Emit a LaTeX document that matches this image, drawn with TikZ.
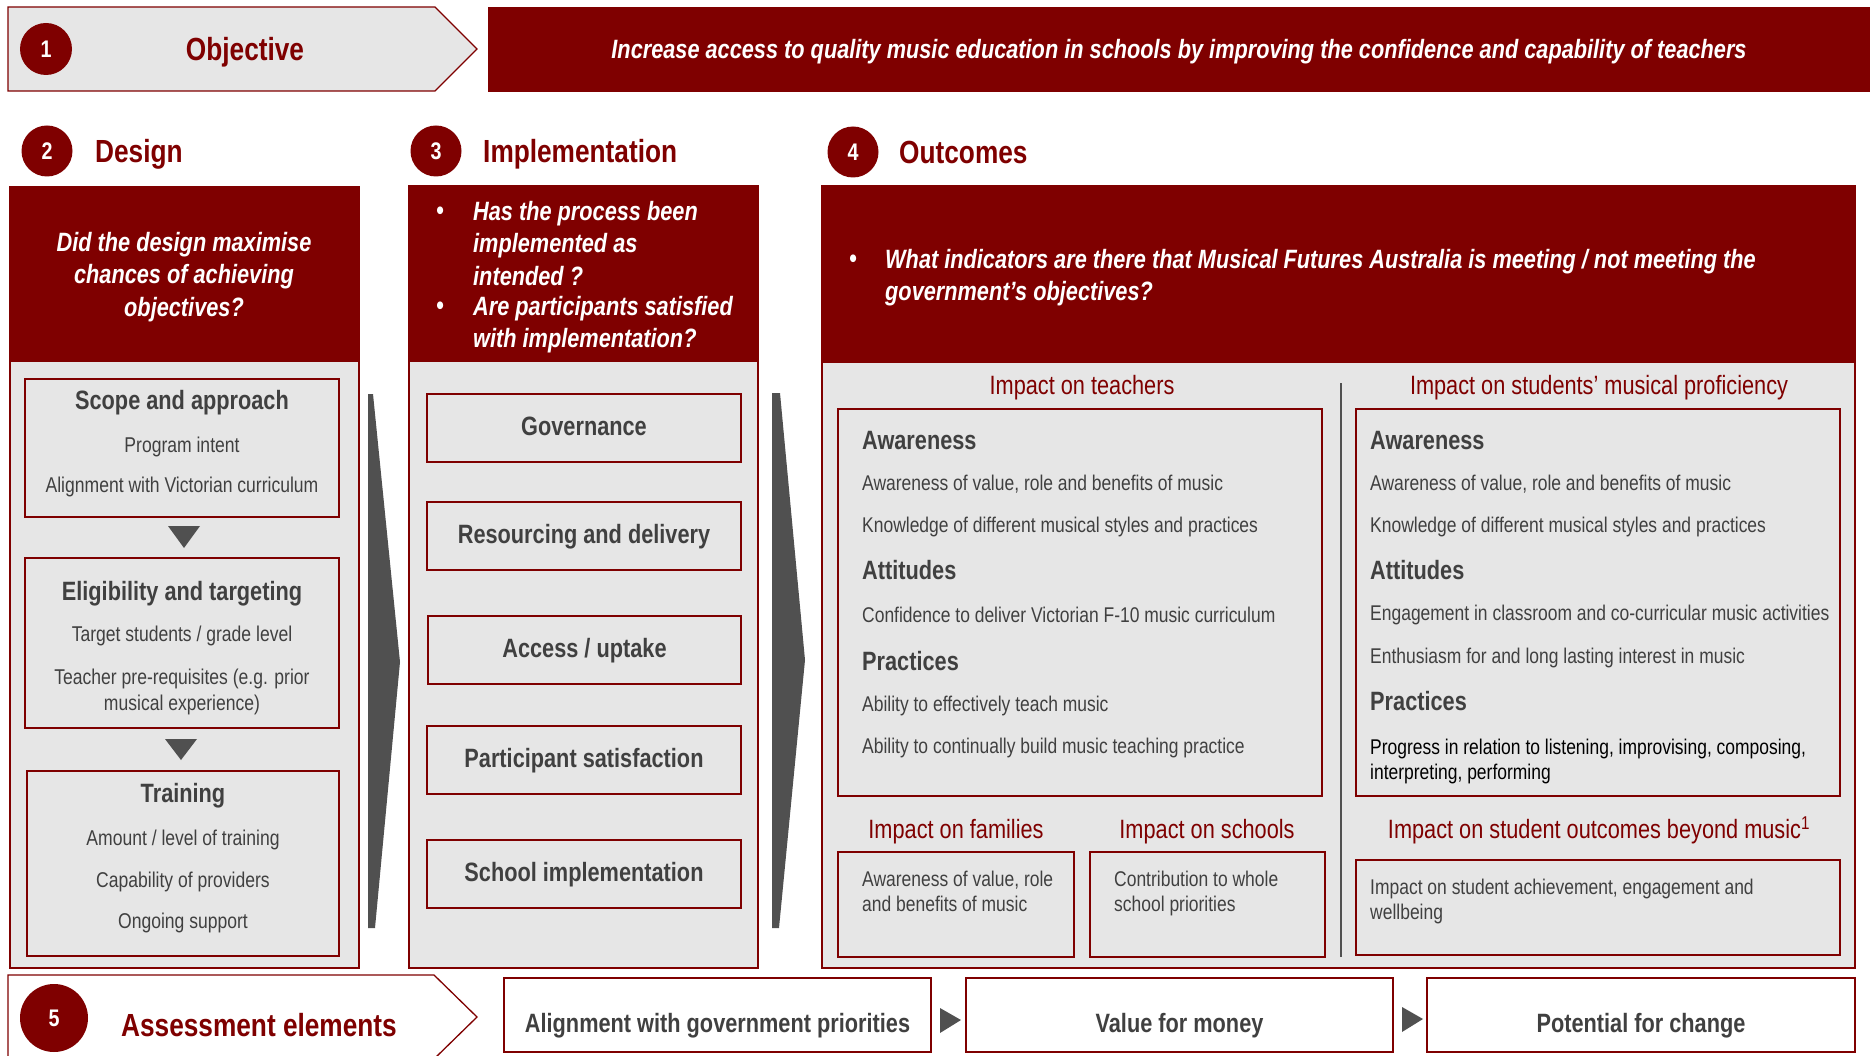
\documentclass[tikz,border=0pt]{standalone}
\usepackage{fontspec}
\setmainfont{Liberation Sans}[FakeStretch=0.82]
\usetikzlibrary{calc}
\definecolor{dred}{HTML}{7F0000}
\definecolor{lgray}{HTML}{E6E6E6}
\definecolor{tgray}{HTML}{404040}
\definecolor{agray}{HTML}{505050}
\newcommand\fsz[2]{\fontsize{#1}{#2}\selectfont}
\tikzset{
 rbox/.style 2 args={rectangle, minimum width=#1, minimum height=#2, inner sep=0pt, outer sep=0pt, anchor=north west},
 panel/.style={fill=lgray, draw=dred, line width=1.3},
 phead/.style={fill=dred, draw=dred, line width=1.3},
 ibox/.style={fill=lgray, draw=dred, line width=1.8},
 wbox/.style={fill=white, draw=dred, line width=1.8},
 num/.style={circle, fill=dred, text=white, inner sep=0pt, font=\fsz{24}{24}\bfseries},
 sect/.style={text=dred, font=\fsz{32}{32}\bfseries, inner sep=0pt, anchor=base west},
 qtext/.style={text=white, font=\fsz{26.5}{32.5}\bfseries\itshape, inner sep=0pt},
 ttl/.style={text=tgray, font=\fsz{26.5}{30}\bfseries, inner sep=0pt, anchor=base},
 itm/.style={text=tgray, font=\fsz{21.4}{26}, inner sep=0pt, anchor=base},
 oitm/.style={text=tgray, font=\fsz{21.3}{25}, inner sep=0pt, anchor=base west},
 ohd/.style={text=tgray, font=\fsz{26.5}{30}\bfseries, inner sep=0pt, anchor=base west},
 imp/.style={text=dred, font=\fsz{26.5}{30}, inner sep=0pt, anchor=base},
 implbox/.style={ibox, text=tgray, font=\fsz{26.5}{30}\bfseries, text height=15pt, text depth=0pt},
 botbox/.style={wbox, text=tgray, font=\fsz{26.5}{30}\bfseries, text height=34.7pt, text depth=0pt},
}
\begin{document}
\begin{tikzpicture}[x=1pt,y=-1pt]
\useasboundingbox (0,0) rectangle (1870,1056);
% ---------- 1 Objective ----------
\draw[fill=lgray, draw=dred, line width=1.3] (8,7) -- (435,7) -- (477,49) -- (435,91) -- (8,91) -- cycle;
\node[num, minimum size=52] (n1) at (46,49) {1};
\node[sect, anchor=base] (objt) at (245,60.5) {Objective};
\node[rbox={1382}{85}, fill=dred, text=white, font=\fsz{26.5}{30}\bfseries\itshape, text height=19pt, text depth=0pt] (objban) at (488,7) {Increase access to quality music education in schools by improving the confidence and capability of teachers};
% ---------- section titles ----------
\node[num, minimum size=51] (n2) at (47,151) {2};
\node[sect] (dst) at (95,162.5) {Design};
\node[num, minimum size=51] (n3) at (436,151) {3};
\node[sect] (ist) at (483,162.5) {Implementation};
\node[num, minimum size=51] (n4) at (853,152) {4};
\node[sect] (ost) at (899,163.5) {Outcomes};
% ---------- 2 Design ----------
\node[rbox={349}{781}, panel] (dpanel) at (10,187) {};
\node[rbox={349}{174}, phead] (dhead) at (10,187) {};
\node[qtext, align=center, anchor=north] (dq) at (184,232) {Did the design maximise\\chances of achieving\\objectives?};
\node[rbox={314}{138}, ibox] (scope) at (25,379) {};
\node[ttl] (scopet) at (182,409.4) {Scope and approach};
\node[itm] (s1) at (182,452.6) {Program intent};
\node[itm] (s2) at (182,492.6) {Alignment with Victorian curriculum};
\node[rbox={314}{170}, ibox] (elig) at (25,558) {};
\fill[agray] ($(scope.south)+(2,9)$) -- ++(16,0) -- ++(-16,22) -- ++(-16,-22) -- cycle;
\node[ttl] (eligt) at (182,600.4) {Eligibility and targeting};
\node[itm] (e1) at (182,641.6) {Target students / grade level};
\node[itm, align=center, anchor=north] (e2) at (182,668.5) {Teacher pre-requisites (e.g. prior\\musical experience)};
\node[rbox={312}{185}, ibox] (train) at (27,771) {};
\fill[agray] ($(elig.south)+(-1,11)$) -- ++(16,0) -- ++(-16,21) -- ++(-16,-21) -- cycle;
\node[ttl] (traint) at (183,802.4) {Training};
\node[itm] (t1) at (183,845.6) {Amount / level of training};
\node[itm] (t2) at (183,887.6) {Capability of providers};
\node[itm] (t3) at (183,928.6) {Ongoing support};
% big arrow 1
\fill[agray] (368,394) -- (373,394) -- (400,662) -- (375,928) -- (368,928) -- cycle;
% ---------- 3 Implementation ----------
\node[rbox={349}{782}, panel] (ipanel) at (409,186) {};
\node[rbox={349}{175}, phead] (ihead) at (409,186) {};
\node[qtext, anchor=base] (ib1) at (440,219.4) {•};
\node[qtext, align=left, anchor=north west] (iq1) at (473,201) {Has the process been\\implemented as\\intended ?};
\node[qtext, anchor=base] (ib2) at (440,314.4) {•};
\node[qtext, align=left, anchor=north west] (iq2) at (473,296) {Are participants satisfied\\with implementation?};
\node[rbox={314}{68}, implbox] (gov) at (427,394) {Governance};
\node[rbox={314}{68}, implbox] (res) at (427,502) {Resourcing and delivery};
\node[rbox={313}{68}, implbox] (acc) at (428,616) {Access / uptake};
\node[rbox={314}{68}, implbox] (par) at (427,726) {Participant satisfaction};
\node[rbox={314}{68}, implbox] (sch) at (427,840) {School implementation};
% big arrow 2
\fill[agray] (772,393) -- (780,393) -- (805,660) -- (779,928) -- (772,928) -- cycle;
% ---------- 4 Outcomes ----------
\node[rbox={1033}{782}, panel] (opanel) at (822,186) {};
\node[rbox={1033}{176}, phead] (ohead) at (822,186) {};
\node[qtext, anchor=base] (ob) at (853,267.4) {•};
\node[qtext, align=left, anchor=north west] (oq) at (885,249) {What indicators are there that Musical Futures Australia is meeting / not meeting the\\government’s objectives?};
% teachers
\node[imp] (impt) at (1082,394.2) {Impact on teachers};
\node[rbox={484}{387}, ibox] (tbox) at (838,409) {};
\node[ohd] (ta) at (862,449.4) {Awareness};
\node[oitm] (ta1) at (862,490.4) {Awareness of value, role and benefits of music};
\node[oitm] (ta2) at (862,532.4) {Knowledge of different musical styles and practices};
\node[ohd] (tt) at (862,579.4) {Attitudes};
\node[oitm] (tt1) at (862,622.4) {Confidence to deliver Victorian F-10 music curriculum};
\node[ohd] (tp) at (862,670.4) {Practices};
\node[oitm] (tp1) at (862,711.4) {Ability to effectively teach music};
\node[oitm] (tp2) at (862,753.4) {Ability to continually build music teaching practice};
% families / schools
\node[imp] (impf) at (956,838.2) {Impact on families};
\node[imp] (imps) at (1207,838.2) {Impact on schools};
\node[rbox={236}{105}, ibox] (fbox) at (838,852) {};
\node[rbox={235}{105}, ibox] (sbox) at (1090,852) {};
\node[oitm, align=left, anchor=north west] (ftx) at (862,870.6) {Awareness of value, role\\and benefits of music};
\node[oitm, align=left, anchor=north west] (stx) at (1114,870.6) {Contribution to whole\\school priorities};
% divider
\draw[agray, line width=2] (1341,383) -- (1341,957);
% students
\node[imp] (impst) at (1599,394.2) {Impact on students’ musical proficiency};
\node[rbox={484}{387}, ibox] (stbox) at (1356,409) {};
\node[ohd] (sa) at (1370,449.4) {Awareness};
\node[oitm] (sa1) at (1370,490.4) {Awareness of value, role and benefits of music};
\node[oitm] (sa2) at (1370,532.4) {Knowledge of different musical styles and practices};
\node[ohd] (sat) at (1370,579.4) {Attitudes};
\node[oitm] (sat1) at (1370,620.4) {Engagement in classroom and co-curricular music activities};
\node[oitm] (sat2) at (1370,663.4) {Enthusiasm for and long lasting interest in music};
\node[ohd] (sp) at (1370,710.4) {Practices};
\node[oitm, text=black, align=left, anchor=north west] (sp1) at (1370,738.6) {Progress in relation to listening, improvising, composing,\\interpreting, performing};
\node[imp] (impb) at (1599,838.2) {Impact on student outcomes beyond music\textsuperscript{1}};
\node[rbox={484}{95}, ibox] (bbox) at (1356,860) {};
\node[oitm, align=left, anchor=north west] (btx) at (1370,878.6) {Impact on student achievement, engagement and\\wellbeing};
% ---------- 5 Assessment ----------
\draw[fill=white, draw=dred, line width=1.3] (8,975) -- (434,975) -- (477,1017) -- (434,1059) -- (8,1059) -- cycle;
\node[num, minimum size=68] (n5) at (54,1018) {5};
\node[sect, anchor=base] (asst) at (259,1036.5) {Assessment elements};
\node[rbox={427}{74}, botbox] (al) at (504,978) {Alignment with government priorities};
\node[rbox={427}{74}, botbox] (vm) at (966,978) {Value for money};
\node[rbox={428}{74}, botbox] (pc) at (1427,978) {Potential for change};
\fill[agray] ($(al.east)+(9,-7)$) -- ++(21,12) -- ++(-21,13) -- cycle;
\fill[agray] ($(vm.east)+(9,-8)$) -- ++(21,12) -- ++(-21,13) -- cycle;
\end{tikzpicture}
\end{document}
